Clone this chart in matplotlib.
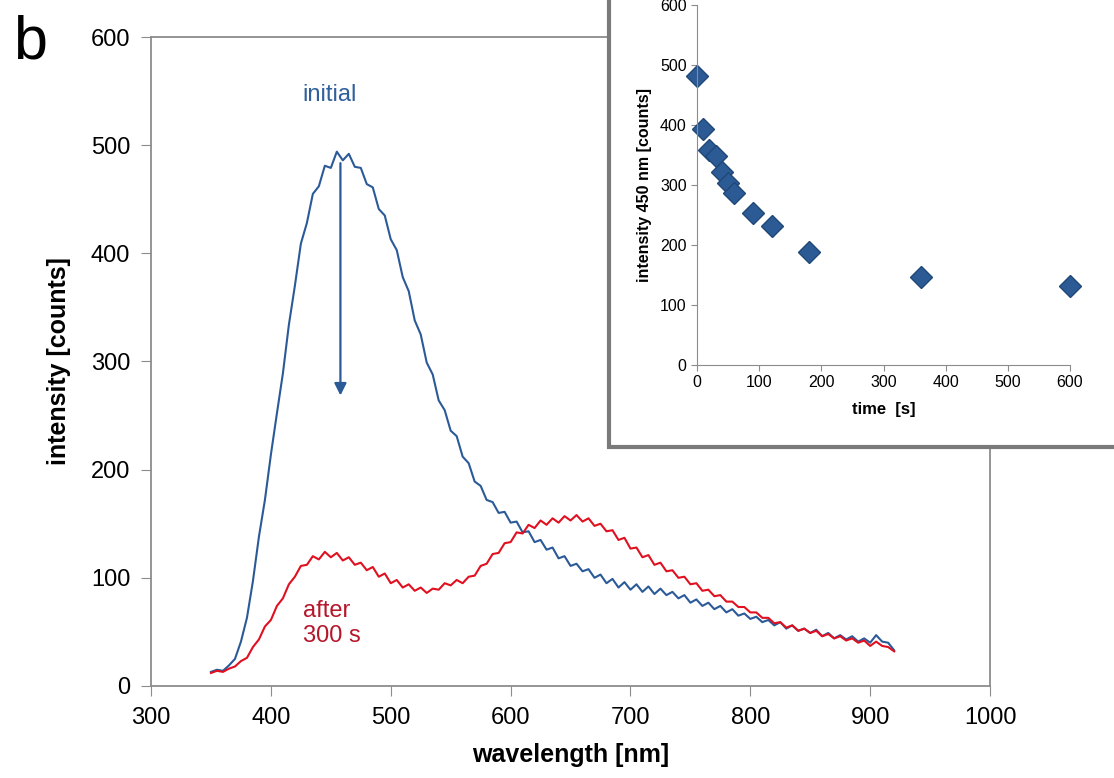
import matplotlib.pyplot as plt
from matplotlib.patches import Rectangle

plt.rcParams['font.family'] = ['Liberation Sans', 'DejaVu Sans']

# spectra, every 5 nm
wavelength = list(range(350, 925, 5))
initial = [13, 15, 14, 19, 25, 41, 63, 97, 138, 172, 214, 252, 289, 334, 370, 409,
           428, 455, 462, 481, 479, 494, 486, 492, 480, 479, 464, 461, 441, 435, 413,
           403, 378, 365, 338, 325, 299, 288, 264, 255, 236, 231, 212, 206, 189, 185,
           172, 170, 160, 161, 151, 152, 142, 143, 133, 135, 126, 128, 118, 120, 111,
           113, 106, 108, 100, 103, 95, 99, 91, 96, 89, 94, 87, 92, 85, 90, 84, 87, 81,
           84, 77, 80, 74, 77, 71, 74, 68, 71, 65, 67, 62, 64, 59, 61, 56, 59, 53, 56,
           51, 53, 49, 52, 46, 49, 44, 47, 43, 46, 41, 44, 40, 47, 41, 40, 33]
after = [12, 14, 13, 16, 18, 23, 26, 36, 43, 55, 61, 74, 81, 94, 101, 111, 112, 120,
         117, 124, 119, 123, 116, 119, 112, 114, 107, 110, 101, 104, 95, 98, 91, 94,
         88, 91, 86, 90, 89, 95, 93, 98, 95, 101, 102, 111, 113, 122, 123, 132, 133,
         142, 141, 149, 146, 153, 149, 155, 151, 157, 153, 158, 152, 155, 148, 150,
         143, 144, 135, 137, 127, 128, 119, 121, 112, 114, 106, 107, 100, 101, 94, 95,
         88, 89, 83, 84, 78, 78, 73, 73, 68, 68, 63, 63, 58, 59, 54, 56, 51, 53, 49,
         51, 46, 48, 44, 46, 42, 44, 40, 42, 37, 41, 37, 36, 32]

# inset: intensity at 450 nm vs time
time_s = [0, 10, 20, 30, 40, 50, 60, 90, 120, 180, 360, 600]
intensity_450 = [482, 393, 359, 348, 322, 303, 287, 253, 232, 189, 146, 132]

blue = '#2b5a98'
red = '#e01020'
grey = '#8c8c8c'

fig = plt.figure(figsize=(11.14, 7.78), dpi=100)
ax = fig.add_axes([0.1356, 0.1183, 0.7531, 0.8341])

ax.plot(wavelength, initial, color=blue, lw=1.5)
ax.plot(wavelength, after, color=red, lw=1.5)

ax.annotate('', xy=(458, 266), xytext=(458, 486),
            arrowprops=dict(arrowstyle='-|>', color=blue, lw=1.6, mutation_scale=18))
ax.text(449, 546, 'initial', color='#2f5f9c', fontsize=17, ha='center', va='center')
ax.text(427, 58, 'after\n300 s', color='#b5162a', fontsize=17, ha='left', va='center',
        linespacing=1.2)

ax.set_xlim(300, 1000)
ax.set_ylim(0, 600)
ax.set_xticks(range(300, 1001, 100))
ax.set_yticks(range(0, 601, 100))
ax.tick_params(labelsize=17, length=7, color=grey, pad=8)
for s in ax.spines.values():
    s.set_color(grey)
    s.set_linewidth(1.3)
ax.set_xlabel('wavelength [nm]', fontsize=18, fontweight='bold', labelpad=10)
ax.set_ylabel('intensity [counts]', fontsize=18, fontweight='bold', labelpad=14)

fig.text(0.012, 0.945, 'b', fontsize=44, va='center')

# inset frame
frame = Rectangle((0.5467, 0.4254), 0.47, 0.6, transform=fig.transFigure,
                  facecolor='white', edgecolor='#7a7a7a', lw=3, zorder=1)
fig.patches.append(frame)

ins = fig.add_axes([0.6257, 0.5308, 0.3348, 0.4627], zorder=2)
ins.plot(time_s, intensity_450, 'D', color='#2c5a94', markeredgecolor='#1f4878',
         markersize=11, clip_on=False)
ins.set_xlim(0, 600)
ins.set_ylim(0, 600)
ins.set_xticks(range(0, 601, 100))
ins.set_yticks(range(0, 601, 100))
ins.tick_params(labelsize=11.5, length=4, color=grey)
ins.spines['top'].set_visible(False)
ins.spines['right'].set_visible(False)
ins.spines['left'].set_color(grey)
ins.spines['bottom'].set_color(grey)
ins.set_xlabel('time  [s]', fontsize=12, fontweight='bold', labelpad=8)
ins.set_ylabel('intensity 450 nm [counts]', fontsize=11.5, fontweight='bold', labelpad=6)

plt.savefig('out.png')
plt.close()
